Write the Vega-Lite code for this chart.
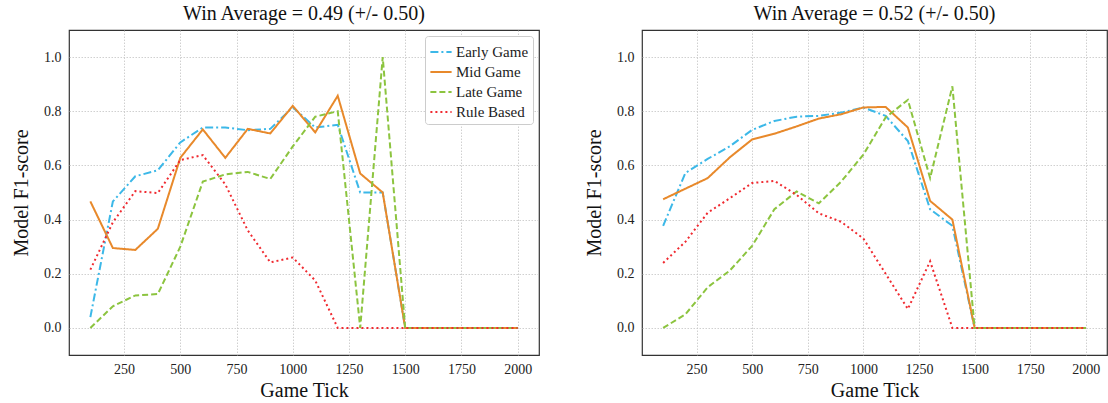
{
  "$schema": "https://vega.github.io/schema/vega-lite/v6.json",
  "padding": {"left": 10, "top": 3, "right": 0, "bottom": 0},
  "datasets": {
    "left": [
      {"tick": 100, "Early Game": 0.04, "Mid Game": 0.467, "Late Game": 0.0, "Rule Based": 0.215},
      {"tick": 200, "Early Game": 0.467, "Mid Game": 0.295, "Late Game": 0.08, "Rule Based": 0.39},
      {"tick": 300, "Early Game": 0.56, "Mid Game": 0.288, "Late Game": 0.12, "Rule Based": 0.505},
      {"tick": 400, "Early Game": 0.582, "Mid Game": 0.366, "Late Game": 0.125, "Rule Based": 0.498},
      {"tick": 500, "Early Game": 0.685, "Mid Game": 0.628, "Late Game": 0.3, "Rule Based": 0.62},
      {"tick": 600, "Early Game": 0.74, "Mid Game": 0.733, "Late Game": 0.54, "Rule Based": 0.638},
      {"tick": 700, "Early Game": 0.74, "Mid Game": 0.628, "Late Game": 0.567, "Rule Based": 0.53},
      {"tick": 800, "Early Game": 0.73, "Mid Game": 0.735, "Late Game": 0.576, "Rule Based": 0.36},
      {"tick": 900, "Early Game": 0.735, "Mid Game": 0.718, "Late Game": 0.55, "Rule Based": 0.242},
      {"tick": 1000, "Early Game": 0.815, "Mid Game": 0.82, "Late Game": 0.67, "Rule Based": 0.26},
      {"tick": 1100, "Early Game": 0.74, "Mid Game": 0.722, "Late Game": 0.78, "Rule Based": 0.175},
      {"tick": 1200, "Early Game": 0.75, "Mid Game": 0.857, "Late Game": 0.8, "Rule Based": 0.0},
      {"tick": 1300, "Early Game": 0.5, "Mid Game": 0.57, "Late Game": 0.0, "Rule Based": 0.0},
      {"tick": 1400, "Early Game": 0.5, "Mid Game": 0.5, "Late Game": 1.0, "Rule Based": 0.0},
      {"tick": 1500, "Early Game": 0.0, "Mid Game": 0.0, "Late Game": 0.0, "Rule Based": 0.0},
      {"tick": 1600, "Early Game": 0.0, "Mid Game": 0.0, "Late Game": 0.0, "Rule Based": 0.0},
      {"tick": 1700, "Early Game": 0.0, "Mid Game": 0.0, "Late Game": 0.0, "Rule Based": 0.0},
      {"tick": 1800, "Early Game": 0.0, "Mid Game": 0.0, "Late Game": 0.0, "Rule Based": 0.0},
      {"tick": 1900, "Early Game": 0.0, "Mid Game": 0.0, "Late Game": 0.0, "Rule Based": 0.0},
      {"tick": 2000, "Early Game": 0.0, "Mid Game": 0.0, "Late Game": 0.0, "Rule Based": 0.0}
    ],
    "right": [
      {"tick": 100, "Early Game": 0.377, "Mid Game": 0.475, "Late Game": 0.0, "Rule Based": 0.24},
      {"tick": 200, "Early Game": 0.572, "Mid Game": 0.514, "Late Game": 0.05, "Rule Based": 0.318},
      {"tick": 300, "Early Game": 0.624, "Mid Game": 0.553, "Late Game": 0.15, "Rule Based": 0.425},
      {"tick": 400, "Early Game": 0.671, "Mid Game": 0.63, "Late Game": 0.212, "Rule Based": 0.479},
      {"tick": 500, "Early Game": 0.731, "Mid Game": 0.696, "Late Game": 0.303, "Rule Based": 0.535},
      {"tick": 600, "Early Game": 0.764, "Mid Game": 0.717, "Late Game": 0.438, "Rule Based": 0.543},
      {"tick": 700, "Early Game": 0.78, "Mid Game": 0.744, "Late Game": 0.504, "Rule Based": 0.491},
      {"tick": 800, "Early Game": 0.783, "Mid Game": 0.773, "Late Game": 0.46, "Rule Based": 0.423},
      {"tick": 900, "Early Game": 0.795, "Mid Game": 0.789, "Late Game": 0.54, "Rule Based": 0.392},
      {"tick": 1000, "Early Game": 0.814, "Mid Game": 0.814, "Late Game": 0.64, "Rule Based": 0.33},
      {"tick": 1100, "Early Game": 0.783, "Mid Game": 0.816, "Late Game": 0.777, "Rule Based": 0.2},
      {"tick": 1200, "Early Game": 0.69, "Mid Game": 0.74, "Late Game": 0.842, "Rule Based": 0.07},
      {"tick": 1300, "Early Game": 0.438, "Mid Game": 0.469, "Late Game": 0.553, "Rule Based": 0.246},
      {"tick": 1400, "Early Game": 0.377, "Mid Game": 0.4, "Late Game": 0.892, "Rule Based": 0.0},
      {"tick": 1500, "Early Game": 0.0, "Mid Game": 0.0, "Late Game": 0.0, "Rule Based": 0.0},
      {"tick": 1600, "Early Game": 0.0, "Mid Game": 0.0, "Late Game": 0.0, "Rule Based": 0.0},
      {"tick": 1700, "Early Game": 0.0, "Mid Game": 0.0, "Late Game": 0.0, "Rule Based": 0.0},
      {"tick": 1800, "Early Game": 0.0, "Mid Game": 0.0, "Late Game": 0.0, "Rule Based": 0.0},
      {"tick": 1900, "Early Game": 0.0, "Mid Game": 0.0, "Late Game": 0.0, "Rule Based": 0.0},
      {"tick": 2000, "Early Game": 0.0, "Mid Game": 0.0, "Late Game": 0.0, "Rule Based": 0.0}
    ]
  },
  "spacing": 43,
  "resolve": {"legend": {"color": "independent", "strokeDash": "independent"}},
  "hconcat": [
    {
      "title": "Win Average = 0.49 (+/- 0.50)",
      "width": 470,
      "height": 325,
      "data": {"name": "left"},
      "transform": [{"fold": ["Early Game", "Mid Game", "Late Game", "Rule Based"], "as": ["method", "f1"]}],
      "mark": {"type": "line", "strokeWidth": 2, "clip": true},
      "encoding": {
        "x": {"field": "tick", "type": "quantitative", "title": "Game Tick",
              "scale": {"domain": [5, 2095], "nice": false, "zero": false},
              "axis": {"values": [250, 500, 750, 1000, 1250, 1500, 1750, 2000], "format": "d"}},
        "y": {"field": "f1", "type": "quantitative", "title": "Model F1-score",
              "scale": {"domain": [-0.1, 1.1], "nice": false, "zero": false},
              "axis": {"values": [0, 0.2, 0.4, 0.6, 0.8, 1.0], "format": ".1f"}},
        "color": {"field": "method", "type": "nominal",
                  "scale": {"domain": ["Early Game", "Mid Game", "Late Game", "Rule Based"], "range": ["#3cb8e8", "#e8892b", "#8cc43f", "#f02a30"]},
                  "legend": {"title": null, "orient": "top-right"}},
        "strokeDash": {"field": "method", "type": "nominal",
                  "scale": {"domain": ["Early Game", "Mid Game", "Late Game", "Rule Based"], "range": [[8, 3, 2, 3], [1, 0], [6, 3], [2, 3]]},
                  "legend": {"title": null, "orient": "top-right"}}
      }
    },
    {
      "title": "Win Average = 0.52 (+/- 0.50)",
      "width": 465,
      "height": 325,
      "data": {"name": "right"},
      "transform": [{"fold": ["Early Game", "Mid Game", "Late Game", "Rule Based"], "as": ["method", "f1"]}],
      "mark": {"type": "line", "strokeWidth": 2, "clip": true},
      "encoding": {
        "x": {"field": "tick", "type": "quantitative", "title": "Game Tick",
              "scale": {"domain": [5, 2095], "nice": false, "zero": false},
              "axis": {"values": [250, 500, 750, 1000, 1250, 1500, 1750, 2000], "format": "d"}},
        "y": {"field": "f1", "type": "quantitative", "title": "Model F1-score",
              "scale": {"domain": [-0.1, 1.1], "nice": false, "zero": false},
              "axis": {"values": [0, 0.2, 0.4, 0.6, 0.8, 1.0], "format": ".1f"}},
        "color": {"field": "method", "type": "nominal",
                  "scale": {"domain": ["Early Game", "Mid Game", "Late Game", "Rule Based"], "range": ["#3cb8e8", "#e8892b", "#8cc43f", "#f02a30"]},
                  "legend": null},
        "strokeDash": {"field": "method", "type": "nominal",
                  "scale": {"domain": ["Early Game", "Mid Game", "Late Game", "Rule Based"], "range": [[8, 3, 2, 3], [1, 0], [6, 3], [2, 3]]},
                  "legend": null}
      }
    }
  ],
  "config": {
    "font": "Liberation Serif",
    "view": {"stroke": "#333333", "strokeWidth": 1.2},
    "title": {"fontSize": 20, "fontWeight": "normal", "color": "#111111", "offset": 6},
    "axis": {
      "grid": true, "gridDash": [1.5, 1.5], "gridColor": "#c4c4c4", "gridWidth": 0.8,
      "domain": false, "ticks": false,
      "labelFontSize": 14, "labelColor": "#222222", "labelPadding": 7,
      "titleFontSize": 20, "titleFontWeight": "normal", "titleColor": "#111111", "titlePadding": 4
    },
    "axisY": {"titlePadding": 12, "labelPadding": 8},
    "legend": {
      "labelFontSize": 15, "labelColor": "#222222", "symbolType": "stroke", "symbolStrokeWidth": 2, "symbolSize": 450,
      "strokeColor": "#cccccc", "fillColor": "white", "cornerRadius": 3, "padding": 4, "offset": 6, "rowPadding": 0, "labelOffset": 3
    }
  }
}
